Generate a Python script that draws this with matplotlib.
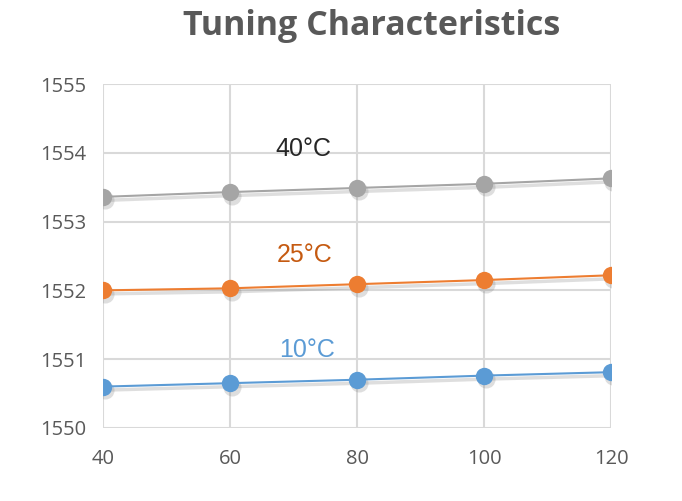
import matplotlib.pyplot as plt
from matplotlib.transforms import ScaledTranslation

#____Data
current = [40, 60, 80, 100, 120]
wl_10C = [1550.60, 1550.65, 1550.70, 1550.76, 1550.81]
wl_25C = [1552.00, 1552.03, 1552.09, 1552.15, 1552.22]
wl_40C = [1553.36, 1553.43, 1553.49, 1553.55, 1553.63]
temps = ["10", "25", "40"]

line_colors = ["#5B9BD5", "#ED7D31", "#A5A5A5"]
text_colors = ["#5B9BD5", "#C55A11", "#262626"]
label_pos = [(72.1, 1551.03), (71.8, 1552.41), (71.6, 1553.95)]

#____Figure
fig = plt.figure(figsize=(6.82, 5.01), dpi=100)
ax = fig.add_axes([0.151, 0.146, 0.745, 0.686])

shift = ax.transData + ScaledTranslation(1.5 / 72, -2.5 / 72, fig.dpi_scale_trans)
for values, color, text_color, temp, (lx, ly) in zip(
        [wl_10C, wl_25C, wl_40C], line_colors, text_colors, temps, label_pos):
    # soft shadow under line and markers
    ax.plot(current, values, "o-", color="#7F7F7F", alpha=0.25, lw=2.5,
            markersize=13, markeredgewidth=0, transform=shift, zorder=2)
    ax.plot(current, values, "o-", color=color, lw=1.5, markersize=12.5,
            markeredgewidth=0, zorder=3)
    ax.text(lx, ly, temp + "\u00b0C", color=text_color,
            fontsize=18, ha="center", va="baseline", family="Liberation Sans")

ax.set_xlim(40, 120)
ax.set_ylim(1550, 1555)
ax.set_xticks(current)
ax.set_yticks(range(1550, 1556))
ax.grid(True, color="#D9D9D9", lw=1.5)
ax.set_axisbelow(True)
for s in ax.spines.values():
    s.set_visible(False)
ax.tick_params(length=0, labelsize=14.5, colors="#595959")
ax.tick_params(axis="x", pad=15)
ax.tick_params(axis="y", pad=12)
for lab in ax.get_xticklabels() + ax.get_yticklabels():
    lab.set_family("Open Sans")

fig.text(0.545, 0.930, "Tuning Characteristics", ha="center", va="baseline",
         fontsize=24.5, fontweight="bold", color="#595959", family="Open Sans")

fig.savefig("out.png", dpi=100)
